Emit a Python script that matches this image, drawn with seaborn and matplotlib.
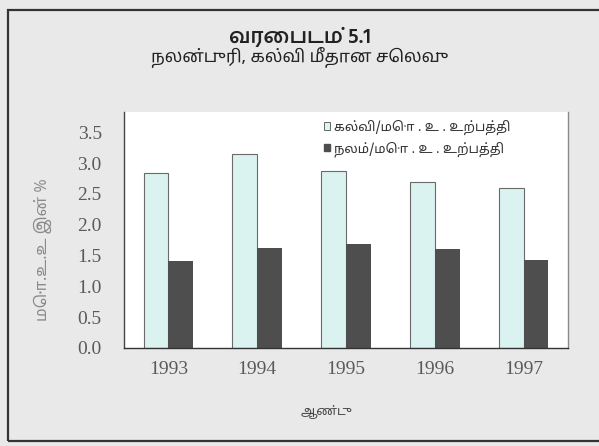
#%% modules
import pandas as pd
import seaborn as sns
import matplotlib
matplotlib.use("Agg")
import matplotlib.pyplot as plt
from matplotlib.patches import Patch, Rectangle

#%% data
years = ["1993", "1994", "1995", "1996", "1997"]
education = [2.84, 3.15, 2.88, 2.70, 2.59]
welfare = [1.42, 1.63, 1.69, 1.61, 1.43]
series_names = ["கல்வி/மொ . உ . உற்பத்தி", "நலம்/மொ . உ . உற்பத்தி"]
y_ticks = [0.0, 0.5, 1.0, 1.5, 2.0, 2.5, 3.0, 3.5]

title = "வரைபடம் 5.1"
subtitle = "நலன்புரி, கல்வி மீதான செலவு"
y_label = "மொ.உ.உ இன் %"
x_label = "ஆண்டு"

#%% long table for seaborn
df = pd.DataFrame({
    "year": years + years,
    "value": education + welfare,
    "series": [series_names[0]] * len(years) + [series_names[1]] * len(years),
})

light = "#d6f7f4"
dark = "#4e4e4e"
tamil = ["Noto Sans Tamil", "DejaVu Sans"]
tamil_bold = ["Hind Madurai", "DejaVu Sans"]
serif = "Liberation Serif"

#%% figure
sns.set_style("white")
fig = plt.figure(figsize=(5.99, 4.46), dpi=100, facecolor="#e9e9e9")
ax = fig.add_axes([124 / 599, 1 - 348 / 446, 444 / 599, 236 / 446])
ax.set_facecolor("white")

sns.barplot(data=df, x="year", y="value", hue="series",
            palette=[light, dark], width=0.56, ax=ax, legend=False)

for p in ax.patches:
    r, g, b, _ = p.get_facecolor()
    if r > 0.5:
        p.set_edgecolor("#6a6a6a")
        p.set_linewidth(0.8)
    else:
        p.set_edgecolor("none")

#%% axes styling
ax.set_ylim(0, 3.83)
ax.set_xlim(-0.5, 4.5)
ax.set_yticks(y_ticks)
ax.set_yticklabels([f"{v:.1f}" for v in y_ticks])
ax.set_xticks([-0.5, 0.5, 1.5, 2.5, 3.5, 4.5], minor=True)
ax.tick_params(axis="y", length=0, pad=16, labelsize=14, labelcolor="#5a5a5a")
ax.tick_params(axis="x", which="major", length=0, pad=9, labelsize=14, labelcolor="#5a5a5a")
ax.tick_params(axis="x", which="minor", length=4, direction="out", color="#444444", width=0.8)
for lab in ax.get_xticklabels() + ax.get_yticklabels():
    lab.set_fontfamily(serif)
ax.set_xlabel("")
ax.set_ylabel("")

ax.spines["top"].set_visible(False)
ax.spines["left"].set_color("#444444")
ax.spines["bottom"].set_color("#333333")
ax.spines["right"].set_color("#8a8a8a")
for s in ["left", "bottom", "right"]:
    ax.spines[s].set_linewidth(1.0)

#%% legend
handles = [Patch(facecolor=light, edgecolor="#666666", linewidth=0.7),
           Patch(facecolor=dark, edgecolor=dark)]
leg = fig.legend(handles, series_names, loc="upper left",
                 bbox_to_anchor=(317 / 599, 1 - 113 / 446),
                 frameon=False, borderpad=0, handlelength=0.5, handleheight=0.5,
                 handletextpad=0.3, labelspacing=0.5,
                 prop={"family": tamil, "size": 9.5})
for t in leg.get_texts():
    t.set_color("#333333")

#%% titles and labels
fig.text(300 / 599, 1 - 37 / 446, title, ha="center", va="center",
         family=tamil_bold, fontsize=15, fontweight="semibold", color="#222222")
fig.text(300 / 599, 1 - 57 / 446, subtitle, ha="center", va="center",
         family=tamil, fontsize=12.5, color="#222222")
fig.text(43 / 599, 1 - 250 / 446, y_label, ha="center", va="center",
         rotation=90, family=tamil, fontsize=11.5, color="#8a8a8a")
fig.text(327 / 599, 1 - 412 / 446, x_label, ha="center", va="center",
         family=tamil, fontsize=9, color="#444444")

#%% outer frame
fig.patches.append(Rectangle((8 / 599, 1 - 441 / 446), 620 / 599, 431 / 446,
                             transform=fig.transFigure, fill=False,
                             edgecolor="#333333", linewidth=1.6))

fig.savefig("out.png", dpi=100, facecolor=fig.get_facecolor())
